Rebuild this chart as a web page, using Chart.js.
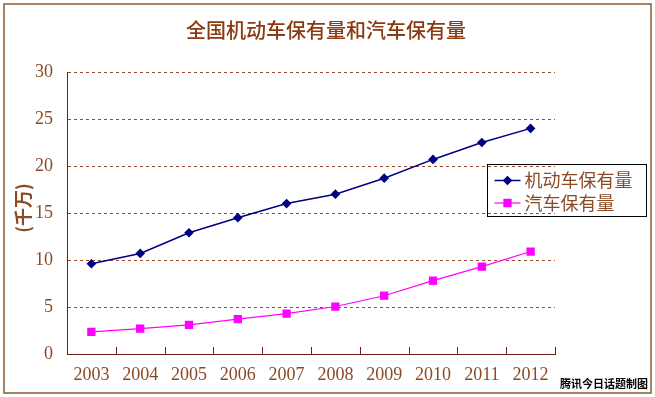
<!DOCTYPE html>
<html>
<head>
<meta charset="utf-8">
<script src="https://cdn.jsdelivr.net/npm/chart.js@4/dist/chart.umd.min.js"></script>
<style>
  html, body { margin: 0; padding: 0; background: #fff; }
  #wrap { width: 655px; height: 397px; }
</style>
</head>
<body>
<div id="wrap"><canvas id="chart" width="655" height="397"></canvas></div>
<script>
// ===== data =====
const years = ['2003', '2004', '2005', '2006', '2007', '2008', '2009', '2010', '2011', '2012'];
const motorVehicles = [9.6, 10.7, 12.9, 14.5, 16.0, 17.0, 18.7, 20.7, 22.5, 24.0];
const cars = [2.35, 2.7, 3.1, 3.7, 4.3, 5.05, 6.2, 7.8, 9.3, 10.9];
const yMin = 0, yMax = 30, yStep = 5;

const titleText = '全国机动车保有量和汽车保有量';
const yTitle = '(千万)';
const credit = '腾讯今日话题制图';

// ===== colours / fonts =====
const brown = '#8a4a26';
const titleBrown = '#8b3a12';
const axisColor = '#6e1c1c';
const gridColor = '#9b4a2a';
const serif = '"Liberation Serif", "DejaVu Serif", serif';
const cjk = '"Noto Sans CJK SC", "Noto Sans", sans-serif';

// ===== plugins =====
const decor = {
    id: 'decor',
    beforeDraw(chart) {
        const ctx = chart.ctx;
        ctx.save();
        ctx.fillStyle = '#fff';
        ctx.fillRect(0, 0, chart.width, chart.height);
        ctx.restore();
    },
    afterDraw(chart) {
        const ctx = chart.ctx;
        const area = chart.chartArea;
        const x = chart.scales.x;
        ctx.save();

        // outer frame
        ctx.strokeStyle = '#8b5a36';
        ctx.lineWidth = 1.5;
        ctx.strokeRect(4, 4, chart.width - 8, chart.height - 8);

        // title
        ctx.fillStyle = titleBrown;
        ctx.font = '500 20px ' + cjk;
        ctx.textAlign = 'center';
        ctx.textBaseline = 'middle';
        ctx.fillText(titleText, 326, 30);

        // y axis title (rotated)
        ctx.save();
        ctx.translate(23, 208);
        ctx.rotate(-Math.PI / 2);
        ctx.font = 'bold 18px ' + cjk;
        ctx.fillStyle = brown;
        ctx.fillText(yTitle, 0, 0);
        ctx.restore();

        // inward x ticks between categories
        ctx.strokeStyle = axisColor;
        ctx.lineWidth = 1;
        ctx.beginPath();
        for (let i = 1; i <= years.length; i++) {
            const px = Math.round(x.getPixelForValue(i - 0.5)) + 0.5;
            ctx.moveTo(px, area.bottom);
            ctx.lineTo(px, area.bottom - 7);
        }
        ctx.stroke();

        // legend
        const lx = 487.5, ly = 164.5, lw = 159, lh = 52;
        ctx.strokeStyle = '#000';
        ctx.lineWidth = 1;
        ctx.strokeRect(lx, ly, lw, lh);
        chart.data.datasets.forEach((ds, i) => {
            const cy = ly + 16 + i * 22.5;
            ctx.strokeStyle = ds.borderColor;
            ctx.lineWidth = ds.borderWidth;
            ctx.beginPath();
            ctx.moveTo(lx + 7, cy);
            ctx.lineTo(lx + 33, cy);
            ctx.stroke();
            ctx.fillStyle = ds.pointBackgroundColor;
            ctx.strokeStyle = ds.pointBorderColor;
            Chart.helpers.drawPoint(ctx, {
                pointStyle: ds.pointStyle,
                radius: ds.pointRadius,
                borderWidth: 1
            }, lx + 20, cy);
            ctx.fillStyle = brown;
            ctx.font = '18px ' + cjk;
            ctx.textAlign = 'left';
            ctx.textBaseline = 'middle';
            ctx.fillText(ds.label, lx + 37, cy);
        });

        // credit
        ctx.fillStyle = '#000';
        ctx.font = 'bold 11px ' + cjk;
        ctx.textAlign = 'right';
        ctx.textBaseline = 'middle';
        ctx.fillText(credit, 648, 384);

        ctx.restore();
    }
};

// ===== chart =====
new Chart(document.getElementById('chart'), {
    type: 'line',
    data: {
        labels: years,
        datasets: [
            {
                label: '机动车保有量',
                data: motorVehicles,
                borderColor: '#000080',
                borderWidth: 1.5,
                pointStyle: 'rectRot',
                pointRadius: 3.8,
                pointBackgroundColor: '#000080',
                pointBorderColor: '#000080',
                tension: 0
            },
            {
                label: '汽车保有量',
                data: cars,
                borderColor: '#ff00ff',
                borderWidth: 1.2,
                pointStyle: 'rect',
                pointRadius: 5,
                pointBackgroundColor: '#ff00ff',
                pointBorderColor: '#ff00ff',
                tension: 0
            }
        ]
    },
    options: {
        responsive: false,
        animation: false,
        events: [],
        layout: { padding: { left: 0, top: 72, right: 100, bottom: 0 } },
        plugins: {
            legend: { display: false },
            title: { display: false },
            tooltip: { enabled: false }
        },
        scales: {
            x: {
                offset: true,
                grid: { display: false, offset: true, drawTicks: false },
                border: { display: true, color: axisColor, width: 1 },
                ticks: {
                    color: brown,
                    font: { family: serif, size: 18 },
                    padding: 10,
                    maxRotation: 0,
                    autoSkip: false
                },
                afterFit(scale) { scale.height = 43; }
            },
            y: {
                min: yMin,
                max: yMax,
                grid: { color: gridColor, lineWidth: 1, drawTicks: false },
                border: { display: true, color: axisColor, width: 1, dash: [3, 3] },
                ticks: {
                    stepSize: yStep,
                    color: brown,
                    font: { family: serif, size: 18 },
                    padding: 14
                },
                afterFit(scale) { scale.width = 67; }
            }
        }
    },
    plugins: [decor]
});
</script>
</body>
</html>
